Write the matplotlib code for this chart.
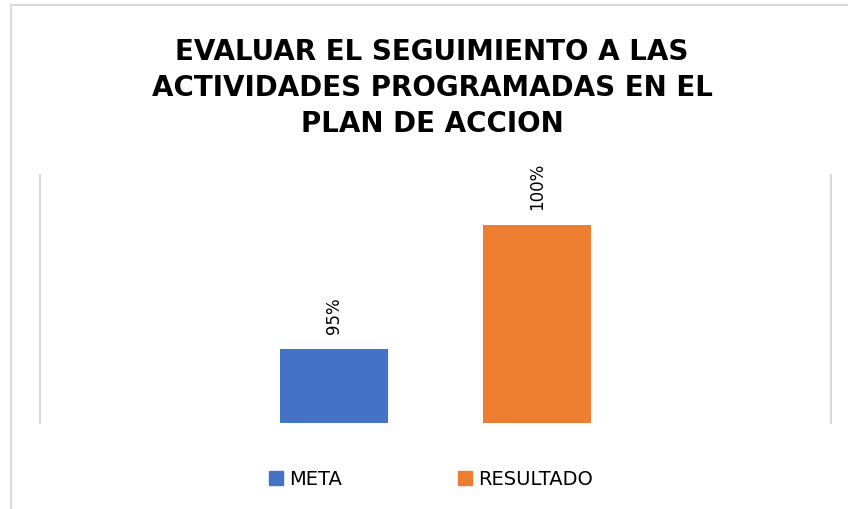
import matplotlib
matplotlib.use("Agg")
from matplotlib import pyplot as plt
from matplotlib.patches import Patch, Rectangle

series = ["META", "RESULTADO"]
values = [0.95, 1.00]
colors = ["#4472C4", "#ED7D31"]
title = "EVALUAR EL SEGUIMIENTO A LAS\nACTIVIDADES PROGRAMADAS EN EL\nPLAN DE ACCION"

W, H = 848, 510
fig = plt.figure(figsize=(W / 100, H / 100), dpi=100)

# outer chart border (only top and left visible)
fig.patches.append(Rectangle((10.5 / W, -0.1), 1.2, 1 - 5.5 / H + 0.1,
                             transform=fig.transFigure, fill=False,
                             edgecolor="#D9D9D9", linewidth=1.5))

ax = fig.add_axes([40 / W, 1 - 424 / H, (831 - 40) / W, (424 - 176) / H])
x = range(len(series))
bars = ax.bar(x, values, width=0.53, color=colors)
ax.set_xlim(-1.44, 2.44)
ax.set_ylim(0.92, 1.02)

for b, v in zip(bars, values):
    ax.annotate(f"{v:.0%}", (b.get_x() + b.get_width() / 2, b.get_height()),
                xytext=(0, 11.5), textcoords="offset points",
                ha="center", va="bottom", rotation=90,
                fontsize=12, color="#000000")

ax.set_xticks([])
ax.set_yticks([])
for s in ["top", "bottom"]:
    ax.spines[s].set_visible(False)
for s in ["left", "right"]:
    ax.spines[s].set_color("#D9D9D9")
    ax.spines[s].set_linewidth(1.5)

fig.text(432 / W, 1 - 88 / H, title, ha="center", va="center",
         fontsize=20, fontweight="bold", linespacing=1.37, color="#000000")

handles = [Patch(color=c, label=s) for c, s in zip(colors, series)]
fig.legend(handles=handles, loc="center", bbox_to_anchor=(431 / W, 1 - 480 / H),
           ncol=2, frameon=False, fontsize=14, handlelength=0.72,
           handleheight=0.72, handletextpad=0.3, columnspacing=6)

fig.savefig("out.png", dpi=100)
